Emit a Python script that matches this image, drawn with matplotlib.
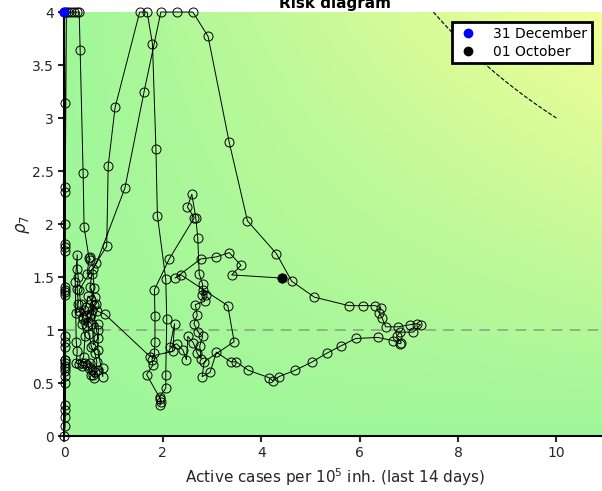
import numpy as np
import matplotlib
matplotlib.use('Agg')
import matplotlib.pyplot as plt
from matplotlib.colors import LinearSegmentedColormap

# trajectory: (active cases per 1e5, rho_7)
# runs from 31 December (blue) to 01 October (black)
seg_zero_column = [(0, 4.0), (0.01, 3.14), (0.02, 2.35), (0.02, 2.30), (0.01, 2.0), (0.01, 1.81),
                   (0.01, 1.75), (0.01, 1.41), (0.01, 1.38), (0.02, 1.33), (0.01, 0.94), (0.01, 0.89),
                   (0.01, 0.84), (0.02, 0.72), (0.01, 0.69), (0.02, 0.66), (0.02, 0.61), (0.01, 0.57),
                   (0.02, 0.5), (0.02, 0.29), (0.01, 0.25), (0.01, 0.09), (0.0, 0.0), (0.01, 0.18),
                   (0.02, 0.64), (0.01, 0.72), (0.02, 1.36), (0.01, 1.78), (0.04, 4.0)]
seg_top_drop = [(0.08, 4.0), (0.13, 4.0), (0.19, 4.0), (0.25, 4.0), (0.3, 4.0), (0.32, 3.64),
                (0.38, 2.48), (0.4, 1.97), (0.5, 1.68)]
seg_cluster_a = [(0.52, 1.66), (0.51, 1.69), (0.46, 1.53), (0.56, 1.53), (0.52, 1.41), (0.62, 1.31),
                 (0.65, 1.25), (0.56, 1.19), (0.46, 1.14), (0.39, 1.19), (0.35, 1.06), (0.42, 0.94),
                 (0.39, 0.75), (0.35, 0.69), (0.42, 0.69), (0.52, 0.69), (0.56, 0.62), (0.59, 0.58),
                 (0.68, 0.62), (0.78, 0.64), (0.78, 0.56), (0.68, 0.81), (0.69, 1.0), (0.68, 1.06),
                 (0.57, 1.06), (0.59, 0.86), (0.68, 0.92), (0.55, 1.28), (0.48, 1.32), (0.44, 1.22),
                 (0.37, 1.12), (0.33, 1.25), (0.3, 1.38)]
seg_loop_a = [(0.86, 1.79), (0.89, 2.55), (1.03, 3.1), (1.53, 4.0), (1.68, 4.0), (1.79, 3.7),
              (1.86, 2.71), (1.89, 2.08), (2.06, 1.48), (2.08, 1.1), (2.06, 0.58), (2.06, 0.45),
              (1.94, 0.37), (1.97, 0.32), (1.94, 0.29), (1.95, 0.35), (1.67, 0.58), (1.8, 0.67),
              (1.78, 0.72), (1.83, 0.78), (1.84, 0.89), (1.84, 1.13), (1.83, 1.38), (2.13, 1.67),
              (2.64, 2.06), (2.5, 2.16), (2.59, 2.28), (2.67, 2.06), (2.71, 1.87), (2.74, 1.53),
              (2.81, 1.43), (2.79, 1.33), (2.88, 1.33), (2.82, 1.38), (2.85, 1.27), (2.66, 1.24),
              (2.7, 1.14), (2.63, 1.06), (2.72, 0.98), (2.81, 0.94), (2.75, 0.85), (2.78, 0.73),
              (2.7, 0.78), (2.62, 0.88), (2.51, 0.94), (2.48, 0.72), (2.41, 0.81), (2.28, 0.87),
              (2.14, 0.84), (2.24, 1.06), (2.2, 0.8), (1.74, 0.75)]
seg_cluster_b = [(0.82, 1.15), (0.66, 1.18), (0.6, 1.24), (0.52, 1.12), (0.45, 1.04), (0.38, 1.1),
                 (0.3, 1.18), (0.24, 1.16), (0.28, 1.25), (0.26, 1.39), (0.28, 1.5), (0.26, 1.58),
                 (0.26, 1.71), (0.22, 1.45), (0.24, 0.89), (0.26, 0.8), (0.24, 0.69), (0.3, 0.68),
                 (0.35, 0.66), (0.45, 0.67), (0.5, 0.64), (0.54, 0.58), (0.6, 0.55), (0.63, 0.6),
                 (0.66, 0.7), (0.62, 0.78), (0.55, 0.84), (0.5, 0.96), (0.48, 1.08), (0.55, 1.15),
                 (0.6, 1.4), (0.58, 1.58), (0.65, 1.63)]
seg_loop_b = [(1.23, 2.34), (1.62, 3.25), (1.96, 4.0), (2.28, 4.0), (2.61, 4.0), (2.92, 3.77),
              (3.35, 2.77), (3.72, 2.03), (4.31, 1.72), (4.62, 1.46), (5.08, 1.31), (5.78, 1.23),
              (6.06, 1.23), (6.32, 1.23), (6.43, 1.21), (6.4, 1.16), (6.46, 1.11), (6.53, 1.03),
              (6.78, 1.03), (7.02, 1.05), (7.16, 1.06), (7.24, 1.05), (7.09, 0.98), (6.82, 0.98),
              (6.75, 0.94), (6.85, 0.88), (6.82, 0.87), (6.68, 0.9), (6.37, 0.93), (5.92, 0.92),
              (5.62, 0.85), (5.33, 0.78), (5.04, 0.7), (4.69, 0.62), (4.36, 0.56), (4.24, 0.52),
              (4.16, 0.55), (3.74, 0.62), (3.49, 0.7), (3.38, 0.7), (3.09, 0.79), (2.96, 0.6),
              (2.8, 0.56), (2.84, 0.7), (3.45, 0.89), (3.32, 1.23), (2.37, 1.52), (2.25, 1.49),
              (2.77, 1.67), (3.09, 1.69), (3.35, 1.73), (3.59, 1.61), (3.4, 1.52), (4.42, 1.49)]

x_ticks = [0, 2, 4, 6, 8, 10]
y_ticks = [0, 0.5, 1, 1.5, 2, 2.5, 3, 3.5, 4]
y_ticklabels = ['0', '0.5', '1', '1.5', '2', '2.5', '3', '3.5', '4']
risk_level = 30

path = np.array(seg_zero_column + seg_top_drop + seg_cluster_a + seg_loop_a
                + seg_cluster_b + seg_loop_b)

fig = plt.figure(figsize=(6.02, 4.91), dpi=100)
ax = fig.add_axes([0.107, 0.112, 0.899, 0.8635])

# background: risk = cases * rho7
gx = np.linspace(0, 11, 45)
gy = np.linspace(0, 4, 33)
X, Y = np.meshgrid(gx, gy)
risk = X * Y
cmap = LinearSegmentedColormap.from_list('risk', ['#a0f79a', '#cdfa98', '#f2ff98'])
ax.imshow(risk, extent=(0, 11, 0, 4), origin='lower', aspect='auto', cmap=cmap,
          vmin=0, vmax=45, interpolation='bilinear', zorder=0)

# dashed risk contour, only computed up to x = 10
cx = np.linspace(0, 10, 101)
cy = np.linspace(0, 4, 81)
CX, CY = np.meshgrid(cx, cy)
ax.contour(CX, CY, CX * CY, levels=[risk_level], colors='k', linestyles='--', linewidths=0.8)
ax.axhline(1, color='gray', alpha=0.65, ls=(0, (6, 4)), lw=1.3, zorder=1)

ax.plot(path[:, 0], path[:, 1], '-', color='k', lw=0.7, marker='o', ms=6.5,
        mfc='none', mec='k', mew=0.7, zorder=3, clip_on=False)
ax.plot(path[0, 0], path[0, 1], 'o', color='b', ms=6, label='31 December', zorder=4, clip_on=False)
ax.plot(path[-1, 0], path[-1, 1], 'o', color='k', ms=6, label='01 October', zorder=4)

ax.set_xlim(0, 11)
ax.set_ylim(0, 4)
ax.set_xticks(x_ticks)
ax.set_yticks(y_ticks)
ax.set_yticklabels(y_ticklabels)
ax.tick_params(direction='out', length=4, width=1.5, labelsize=10, colors='#262626')
ax.spines['top'].set_visible(False)
ax.spines['right'].set_visible(False)
ax.spines['left'].set_linewidth(1.5)
ax.spines['bottom'].set_linewidth(1.5)

ax.set_xlabel('Active cases per $10^5$ inh. (last 14 days)', fontsize=11, color='#262626')
ax.set_ylabel(r'$\rho_7$', fontsize=12, color='#262626')
ax.yaxis.set_label_coords(-0.06, 0.5)
ax.set_title('Risk diagram', fontweight='bold', fontsize=11, pad=3)

leg = ax.legend(loc='upper right', bbox_to_anchor=(0.975, 0.976), borderaxespad=0,
                fontsize=10, fancybox=False, framealpha=1, edgecolor='k', handletextpad=1.0,
                handlelength=1.6, borderpad=0.35, labelspacing=0.25)
leg.get_frame().set_linewidth(2)

fig.savefig('out.png', dpi=100)
